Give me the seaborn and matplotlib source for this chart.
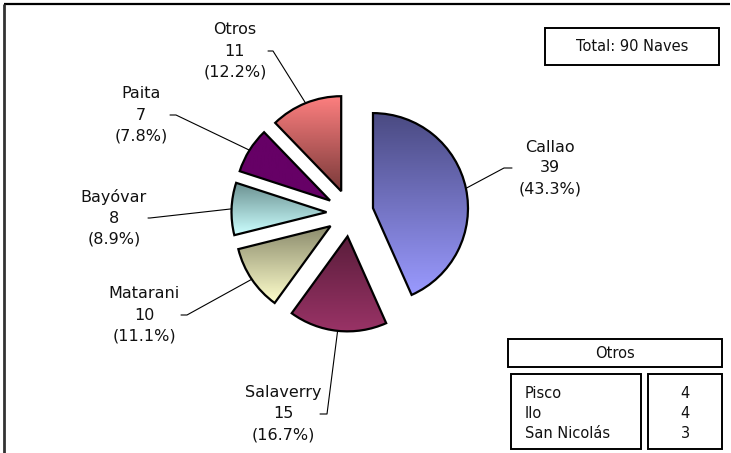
import numpy as np
import matplotlib
matplotlib.use("Agg")
import matplotlib.pyplot as plt
import seaborn as sns
from matplotlib.patches import Rectangle
from matplotlib.colors import LinearSegmentedColormap

# ---- data ----
ports = ["Callao", "Salaverry", "Matarani", "Bayóvar", "Paita", "Otros"]
ships = [39, 15, 10, 8, 7, 11]
top_colors = ["#4a4a82", "#5a1d3b", "#8a8a6c", "#6a9090", "#660066", "#ff8080"]
bottom_colors = ["#9a9aff", "#993366", "#ffffcc", "#ccffff", "#660066", "#7a3a3a"]
otros_ports = ["Pisco", "Ilo", "San Nicolás"]
otros_ships = [4, 4, 3]
total_ships = sum(ships)
total_label = f"Total: {total_ships} Naves"

sns.set_theme(style="white")
plt.rcParams['font.family'] = ['DejaVu Sans']

W, H = 731, 453
fig = plt.figure(figsize=(W / 100, H / 100), dpi=100)
ax = fig.add_axes([0, 0, 1, 1])


def Y(py):
    return H - py


# ---- pie ----
cx, cy, R, EXP = 350, Y(213), 95, 23.5
wedges, _ = ax.pie(ships, startangle=90, counterclock=False, center=(cx, cy),
                   radius=R, explode=[EXP] * len(ships),
                   wedgeprops=dict(edgecolor='black', linewidth=1.6, facecolor='none'))

grad = np.linspace(0, 1, 256).reshape(-1, 1)
for w, c0, c1 in zip(wedges, top_colors, bottom_colors):
    w.set_zorder(3)
    ext = w.get_path().get_extents()
    cmap = LinearSegmentedColormap.from_list("g", [c1, c0])
    im = ax.imshow(grad, cmap=cmap, origin='lower',
                   extent=(ext.x0, ext.x1, ext.y0, ext.y1),
                   aspect='auto', zorder=2, interpolation='bilinear')
    im.set_clip_path(w)

# ---- labels with leader lines ----
label_pos = [(550, 168), (283, 414), (144, 315), (114, 218), (141, 115), (235, 51)]
tick_start = [(512, 168), (320, 414), (181, 315), (148, 218), (170, 115), (268, 51)]
tick_bend = [(504, 168), (327, 414), (187, 315), (150, 218), (176, 115), (273, 51)]

for w, name, val, lp, ts, tb in zip(wedges, ports, ships, label_pos, tick_start, tick_bend):
    thm = np.deg2rad((w.theta1 + w.theta2) / 2)
    ex = w.center[0] + w.r * np.cos(thm)
    ey = w.center[1] + w.r * np.sin(thm)
    ax.plot([ts[0], tb[0], ex], [Y(ts[1]), Y(tb[1]), ey], color='black', lw=0.8, zorder=4)
    txt = f"{name}\n{val}\n({val / total_ships * 100:.1f}%)"
    ax.text(lp[0], Y(lp[1]), txt, ha='center', va='center', multialignment='center',
            fontsize=11.5, linespacing=1.5, color='#111111', zorder=5)

# ---- total box ----
ax.add_patch(Rectangle((545, Y(65)), 174, 37, fill=False, edgecolor='black', lw=1.4, zorder=5))
ax.text(632, Y(46.5), total_label, ha='center', va='center', fontsize=10.5, color='#111111', zorder=6)

# ---- "Otros" table ----
ax.add_patch(Rectangle((508, Y(367)), 214, 28, fill=False, edgecolor='black', lw=1.4, zorder=5))
ax.text(615, Y(353), "Otros", ha='center', va='center', fontsize=10.5, color='#111111', zorder=6)
ax.add_patch(Rectangle((511, Y(449)), 130, 75, fill=False, edgecolor='black', lw=1.4, zorder=5))
ax.add_patch(Rectangle((648, Y(449)), 74, 75, fill=False, edgecolor='black', lw=1.4, zorder=5))
row_y = [393, 413, 433]
for p, v, ry in zip(otros_ports, otros_ships, row_y):
    ax.text(525, Y(ry), p, ha='left', va='center', fontsize=10.5, color='#111111', zorder=6)
    ax.text(685, Y(ry), str(v), ha='center', va='center', fontsize=10.5, color='#111111', zorder=6)

# ---- frame lines ----
ax.plot([4, 730], [Y(4), Y(4)], color='black', lw=1.6, zorder=6, solid_capstyle='butt')
ax.plot([4, 4], [Y(4), Y(453)], color='#333333', lw=2.0, zorder=6, solid_capstyle='butt')

ax.set_xlim(0, W)
ax.set_ylim(0, H)
ax.axis('off')
fig.savefig("out.png", dpi=100, facecolor='white')
